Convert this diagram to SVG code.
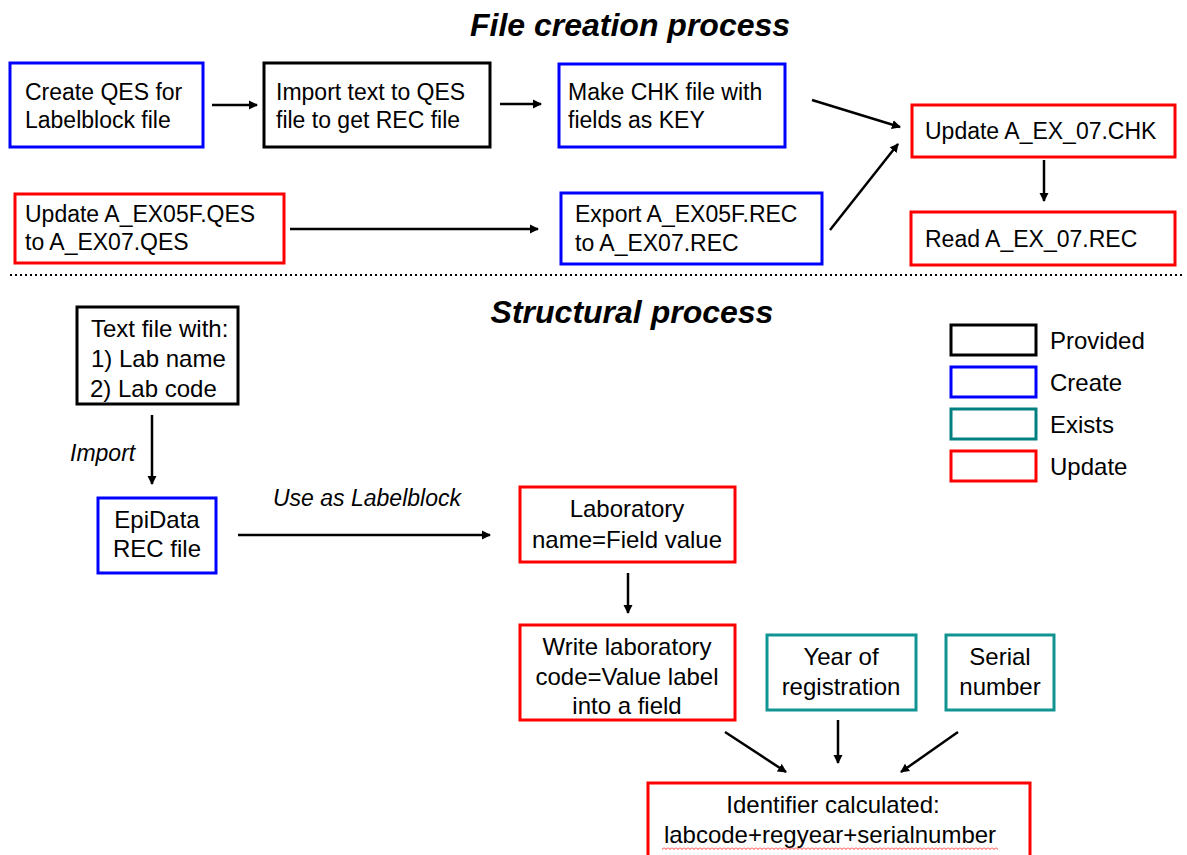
<svg xmlns="http://www.w3.org/2000/svg" width="1187" height="855" viewBox="0 0 1187 855">
<defs>
<marker id="ah" markerWidth="10" markerHeight="10" refX="8" refY="5" orient="auto" markerUnits="userSpaceOnUse">
<path d="M0,0.5 L9,5 L0,9.5 Z" fill="#000"/>
</marker>
<pattern id="wave" x="0" y="847" width="4" height="3" patternUnits="userSpaceOnUse">
<path d="M0,0.5 L2,2.5 L4,0.5" fill="none" stroke="#ff0000" stroke-width="0.8"/>
</pattern>
<style>
.b{fill:#fff;stroke-width:3}
.k{stroke:#000}.bl{stroke:#0000ff}.r{stroke:#ff0000}.t{stroke:#119494}
text{font-family:"Liberation Sans",Arial,sans-serif;fill:#000}
.s{font-size:23px}
.m{font-size:24px}
.c{text-anchor:middle}
.h{font-size:32px;font-weight:bold;font-style:italic;text-anchor:middle}
.i{font-size:23px;font-style:italic}
.cn line{stroke:#000;stroke-width:2.5;marker-end:url(#ah)}
</style>
</defs>
<rect width="1187" height="855" fill="#fff"/>
<text class="h" x="630" y="36">File creation process</text>
<text class="h" x="632" y="323">Structural process</text>
<line x1="10" y1="275" x2="1185" y2="275" stroke="#000" stroke-width="2" stroke-dasharray="2 3"/>

<g id="n1"><rect class="b bl" x="10" y="63" width="193" height="84"/><text class="s" x="25" y="100">Create QES for</text><text class="s" x="25" y="128">Labelblock file</text></g>
<g id="n2"><rect class="b k" x="264" y="63" width="226" height="84"/><text class="s" x="276" y="100">Import text to QES</text><text class="s" x="276" y="128">file to get REC file</text></g>
<g id="n3"><rect class="b bl" x="559" y="64" width="226" height="83"/><text class="s" x="568" y="100">Make CHK file with</text><text class="s" x="568" y="128">fields as KEY</text></g>
<g id="n4"><rect class="b r" x="912" y="105" width="263" height="52"/><text class="s" x="925" y="139">Update A_EX_07.CHK</text></g>
<g id="n5"><rect class="b r" x="911" y="212" width="264" height="53"/><text class="s" x="925" y="247">Read A_EX_07.REC</text></g>
<g id="n6"><rect class="b r" x="15" y="194" width="269" height="69"/><text class="s" x="25" y="222">Update A_EX05F.QES</text><text class="s" x="25" y="250">to A_EX07.QES</text></g>
<g id="n7"><rect class="b bl" x="561" y="193" width="261" height="71"/><text class="s" x="575" y="222">Export A_EX05F.REC</text><text class="s" x="575" y="251">to A_EX07.REC</text></g>

<g id="n8"><rect class="b k" x="77" y="307" width="161" height="97"/><text class="m" x="91" y="337">Text file with:</text><text class="m" x="91" y="367">1) Lab name</text><text class="m" x="90" y="397">2) Lab code</text></g>
<g id="n9"><rect class="b bl" x="98" y="498" width="118" height="75"/><text class="m c" x="157" y="528">EpiData</text><text class="m c" x="157" y="557">REC file</text></g>
<g id="n10"><rect class="b r" x="520" y="487" width="215" height="75"/><text class="m c" x="627" y="517">Laboratory</text><text class="m c" x="627" y="548">name=Field value</text></g>
<g id="n11"><rect class="b r" x="520" y="625" width="215" height="95"/><text class="m c" x="627" y="655">Write laboratory</text><text class="m c" x="627" y="685">code=Value label</text><text class="m c" x="627" y="714">into a field</text></g>
<g id="n12"><rect class="b t" x="767" y="635" width="149" height="75"/><text class="m c" x="841" y="665">Year of</text><text class="m c" x="841" y="695">registration</text></g>
<g id="n13"><rect class="b t" x="946" y="635" width="108" height="75"/><text class="m c" x="1000" y="665">Serial</text><text class="m c" x="1000" y="695">number</text></g>
<g id="n14"><rect class="b r" x="648" y="783" width="382" height="80"/><text class="m c" x="833" y="813">Identifier calculated:</text><text class="m c" x="830" y="843">labcode+regyear+serialnumber</text>
<rect x="662" y="847" width="336" height="3" fill="url(#wave)"/></g>

<g id="legend">
<rect class="b k" x="951" y="325" width="85" height="30"/><text class="m" x="1050" y="349">Provided</text>
<rect class="b bl" x="951" y="367" width="85" height="30"/><text class="m" x="1050" y="391">Create</text>
<rect class="b t" x="951" y="409" width="85" height="30" style="stroke:#008080"/><text class="m" x="1050" y="433">Exists</text>
<rect class="b r" x="951" y="451" width="85" height="30"/><text class="m" x="1050" y="475">Update</text>
</g>

<g id="labels">
<text class="i" x="70" y="461">Import</text>
<text class="i" x="273" y="506">Use as Labelblock</text>
</g>

<g id="connectors" class="cn">
<line x1="212" y1="105" x2="257" y2="105"/>
<line x1="500" y1="104" x2="541" y2="104"/>
<line x1="812" y1="100" x2="900" y2="127"/>
<line x1="830" y1="230" x2="898" y2="144"/>
<line x1="1044" y1="160" x2="1044" y2="201"/>
<line x1="290" y1="229" x2="538" y2="229"/>
<line x1="152" y1="415" x2="152" y2="484"/>
<line x1="238" y1="535" x2="490" y2="535"/>
<line x1="628" y1="573" x2="628" y2="613"/>
<line x1="725" y1="732" x2="786" y2="772"/>
<line x1="838" y1="720" x2="838" y2="763"/>
<line x1="958" y1="732" x2="901" y2="772"/>
</g>
</svg>
